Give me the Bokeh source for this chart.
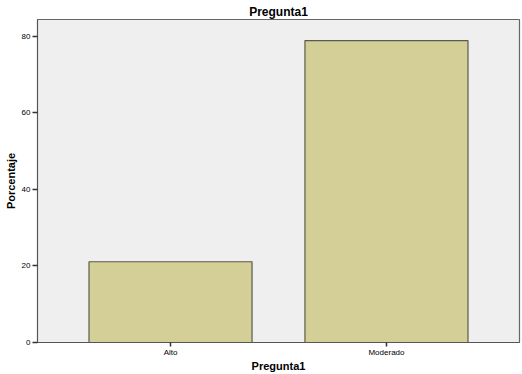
from bokeh.plotting import figure
from bokeh.models import FixedTicker, Range1d, ColumnDataSource
from bokeh.embed import file_html
from bokeh.resources import INLINE

categories = ["Alto", "Moderado"]
values = [21.1, 78.9]
yticks = [0, 20, 40, 60, 80]

xpos = list(range(len(categories)))
src = ColumnDataSource(dict(x=xpos, top=values))

p = figure(width=522, height=374, output_backend="svg", toolbar_location=None,
           x_range=Range1d(-0.616, 1.616), y_range=Range1d(0, 84.4),
           title="Pregunta1")
p.min_border_left = 37
p.min_border_right = 3
p.min_border_top = 19
p.min_border_bottom = 32

p.vbar(x="x", top="top", width=0.755, source=src, fill_color="#d3cf97",
       line_color="#5a5a4a", line_width=1.2)

p.background_fill_color = "#efefef"
p.border_fill_color = "white"
p.outline_line_color = "#666666"
p.outline_line_width = 1.2
p.xgrid.visible = False
p.ygrid.visible = False

p.title.align = "center"
p.title.text_font = "Liberation Sans"
p.title.text_font_size = "12px"
p.title.text_font_style = "bold"
p.title.text_color = "black"
p.title.offset = 0
p.title.standoff = 2

p.xaxis.ticker = FixedTicker(ticks=xpos)
p.xaxis.major_label_overrides = {i: c for i, c in enumerate(categories)}
p.yaxis.ticker = FixedTicker(ticks=yticks)
for ax in (p.xaxis, p.yaxis):
    ax.axis_line_color = "#555555"
    ax.major_tick_line_color = "#333333"
    ax.major_tick_line_width = 1.5
    ax.major_tick_in = 0
    ax.minor_tick_line_color = None
    ax.major_label_text_font = "Liberation Sans"
    ax.major_label_text_font_size = "8px"
    ax.major_label_text_color = "black"
    ax.axis_label_text_font = "Liberation Sans"
    ax.axis_label_text_font_size = "11px"
    ax.axis_label_text_font_style = "bold"
    ax.axis_label_text_color = "black"
p.xaxis.major_tick_out = 4
p.yaxis.major_tick_out = 5
p.xaxis.major_label_standoff = 1
p.yaxis.major_label_standoff = 2
p.xaxis.axis_label = "Pregunta1"
p.yaxis.axis_label = "Porcentaje"
p.xaxis.axis_label_standoff = 0
p.yaxis.axis_label_standoff = 2

open("out.html", "w").write(file_html(p, INLINE))
